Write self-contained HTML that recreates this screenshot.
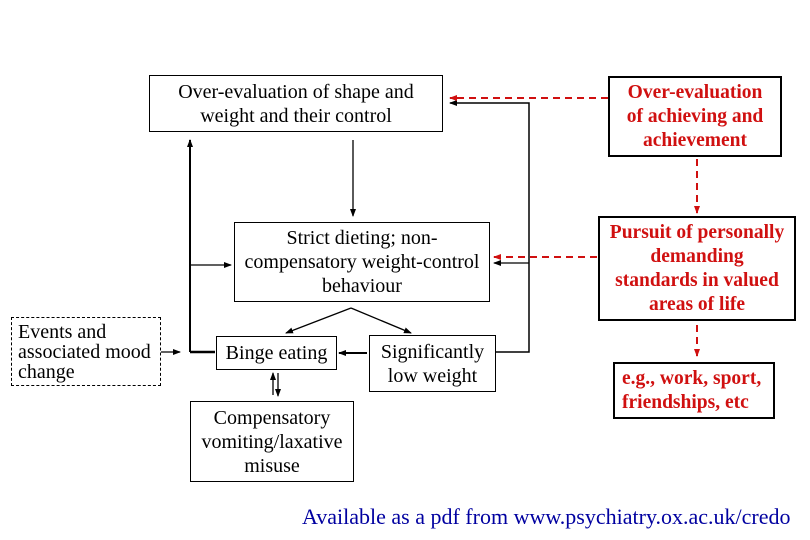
<!DOCTYPE html>
<html><head><meta charset="utf-8"><style>
body{margin:0;width:810px;height:540px;background:#fff;position:relative;overflow:hidden;font-family:"Liberation Serif",serif}
.b{position:absolute;box-sizing:border-box;border:1px solid #000;display:flex;align-items:center;justify-content:center;text-align:center;font-size:20px;line-height:24px;color:#000;white-space:nowrap}
.r{border:2px solid #000;color:#d01010;font-weight:bold;font-size:19.5px;line-height:24px}
svg{position:absolute;left:0;top:0}
</style></head><body>
<svg width="810" height="540">
<defs>
<marker id="a" markerWidth="8" markerHeight="8" refX="7" refY="4" orient="auto" markerUnits="userSpaceOnUse"><path d="M0,1 L8,4 L0,7 z" fill="#000"/></marker>
<marker id="ar" markerWidth="8" markerHeight="8" refX="7" refY="4" orient="auto" markerUnits="userSpaceOnUse"><path d="M0,1 L8,4 L0,7 z" fill="#d01010"/></marker>
</defs>
<g stroke="#000" fill="none" stroke-width="1.3">
<line x1="190" y1="352" x2="190" y2="140" stroke-width="2" marker-end="url(#a)"/>
<line x1="190" y1="352" x2="215" y2="352" stroke-width="2.5"/>
<line x1="190" y1="265" x2="231" y2="265" marker-end="url(#a)"/>
<line x1="161" y1="352" x2="180" y2="352" marker-end="url(#a)"/>
<line x1="353" y1="140" x2="353" y2="216" marker-end="url(#a)"/>
<line x1="351" y1="308" x2="286" y2="333" marker-end="url(#a)"/>
<line x1="351" y1="308" x2="411" y2="333" marker-end="url(#a)"/>
<line x1="367" y1="353" x2="339" y2="353" stroke-width="2" marker-end="url(#a)"/>
<line x1="273" y1="395" x2="273" y2="373" marker-end="url(#a)"/>
<line x1="278" y1="373" x2="278" y2="396" marker-end="url(#a)"/>
<polyline points="496,352 529,352 529,103 450,103" marker-end="url(#a)" stroke-width="1.5"/>
<line x1="529" y1="263" x2="494" y2="263" marker-end="url(#a)"/>
</g>
<g stroke="#d01010" fill="none" stroke-width="2" stroke-dasharray="7,5">
<line x1="608" y1="98" x2="450" y2="98" marker-end="url(#ar)"/>
<line x1="597" y1="257" x2="494" y2="257" marker-end="url(#ar)"/>
<line x1="697" y1="159" x2="697" y2="213" marker-end="url(#ar)"/>
<line x1="697" y1="325" x2="697" y2="356" marker-end="url(#ar)"/>
</g>
</svg>
<div class="b" style="left:149px;top:75px;width:294px;height:57px">Over-evaluation of shape and<br>weight and their control</div>
<div class="b" style="left:234px;top:222px;width:256px;height:80px">Strict dieting; non-<br>compensatory weight-control<br>behaviour</div>
<div class="b" style="left:11px;top:317px;width:150px;height:69px;border-style:dashed;justify-content:flex-start;text-align:left;padding-left:6px;line-height:20px">Events and<br>associated mood<br>change</div>
<div class="b" style="left:216px;top:336px;width:121px;height:34px">Binge eating</div>
<div class="b" style="left:369px;top:335px;width:127px;height:57px">Significantly<br>low weight</div>
<div class="b" style="left:190px;top:401px;width:164px;height:81px">Compensatory<br>vomiting/laxative<br>misuse</div>
<div class="b r" style="left:608px;top:76px;width:174px;height:81px">Over-evaluation<br>of achieving and<br>achievement</div>
<div class="b r" style="left:598px;top:216px;width:198px;height:105px">Pursuit of personally<br>demanding<br>standards in valued<br>areas of life</div>
<div class="b r" style="left:613px;top:362px;width:162px;height:57px;justify-content:flex-start;text-align:left;padding-left:7px">e.g., work, sport,<br>friendships, etc</div>
<div style="position:absolute;left:302px;top:504px;font-size:22px;color:#0000a0;white-space:nowrap">Available as a pdf from www.psychiatry.ox.ac.uk/credo</div>
</body></html>
